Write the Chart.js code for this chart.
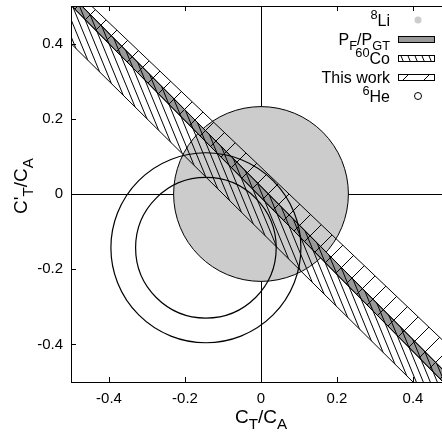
<!DOCTYPE html>
<html>
<head>
<meta charset="utf-8">
<script src="https://cdn.jsdelivr.net/npm/chart.js@4"></script>
<style>
  html, body { margin: 0; padding: 0; background: #fff; overflow: hidden; }
  canvas { display: block; }
</style>
</head>
<body>
<canvas id="myChart" width="460" height="435"></canvas>
<script>
// tick positions on both axes
const tickValues = [-0.4, -0.2, 0, 0.2, 0.4];

// circles (centre and radius in C_T/C_A , C'_T/C_A units)
const circleNames = ["8Li", "6He outer", "6He inner"];
const circleX = [0, -0.145, -0.145];
const circleY = [0, -0.143, -0.143];
const circleR = [0.23, 0.25, 0.185];

// bands: each edge is a straight line, given by its y at x = -0.5 and at x = 0.5
const bandNames = ["P_F/P_GT", "60Co", "This work"];
const bandHighY0 = [0.529, 0.529, 0.552];
const bandHighY1 = [-0.489, -0.489, -0.41];
const bandLowY0 = [0.502, 0.4, 0.502];
const bandLowY1 = [-0.521, -0.6, -0.521];
const edgeX = [-0.5, 0.5];

// key texts (["text", "sup" | "sub" | ""])
const keyLabels = [
  [["8", "sup"], ["Li", ""]],
  [["P", ""], ["F", "sub"], ["/P", ""], ["GT", "sub"]],
  [["60", "sup"], ["Co", ""]],
  [["This work", ""]],
  [["6", "sup"], ["He", ""]],
];

const FONT = "'Liberation Sans', Arial, sans-serif";
var canvas = document.getElementById("myChart");
var ctx = canvas.getContext("2d");

function hatch(w, h, up) {
  const c = document.createElement("canvas");
  c.width = w;
  c.height = h;
  const g = c.getContext("2d");
  g.strokeStyle = "#000";
  g.lineWidth = 1;
  for (const o of [-w, 0, w]) {
    g.beginPath();
    if (up) { g.moveTo(o, h); g.lineTo(o + w, 0); }
    else { g.moveTo(o, 0); g.lineTo(o + w, h); }
    g.stroke();
  }
  return ctx.createPattern(c, "repeat");
}

const bandFill = ["#999999", hatch(7, 17, false), hatch(21, 21, true)];

function radiusPx(chart, r) {
  const x = chart.scales.x;
  return Math.abs(x.getPixelForValue(r) - x.getPixelForValue(0));
}

function circleSet(i, fill, width) {
  return {
    label: circleNames[i],
    data: [{ x: circleX[i], y: circleY[i] }],
    showLine: false,
    pointRadius: (c) => radiusPx(c.chart, circleR[i]),
    pointBackgroundColor: fill,
    pointBorderColor: "#000",
    pointBorderWidth: width,
  };
}

function edgeSet(label, y0, y1, fill, bg) {
  return {
    label: label,
    data: [{ x: edgeX[0], y: y0 }, { x: edgeX[1], y: y1 }],
    borderColor: "#000",
    borderWidth: 1,
    pointRadius: 0,
    fill: fill,
    backgroundColor: bg,
  };
}

// datasets in drawing order (first = bottom)
let datasets = [circleSet(0, "#cccccc", 1)];
for (let i = 0; i < bandNames.length; i++) {
  datasets.push(edgeSet(bandNames[i] + " high", bandHighY0[i], bandHighY1[i], "+1", bandFill[i]));
  datasets.push(edgeSet(bandNames[i] + " low", bandLowY0[i], bandLowY1[i], false, "rgba(0,0,0,0)"));
}
datasets.push(circleSet(1, "rgba(0,0,0,0)", 1.2));
datasets.push(circleSet(2, "rgba(0,0,0,0)", 1.2));
datasets.forEach((d, i) => { d.order = datasets.length - i; });

function richWidth(g, parts, size) {
  let w = 0;
  for (const [t, k] of parts) {
    g.font = (k ? size * 0.8 : size) + "px " + FONT;
    w += g.measureText(t).width;
  }
  return w;
}

function drawRich(g, parts, x, y, size) {
  for (const [t, k] of parts) {
    g.font = (k ? size * 0.8 : size) + "px " + FONT;
    let dy = k === "sub" ? size * 0.3 : k === "sup" ? -size * 0.42 : 0;
    g.fillText(t, x, y + dy);
    x += g.measureText(t).width;
  }
}

const framePlugin = {
  id: "frame",
  afterDatasetsDraw(chart) {
    const g = chart.ctx, a = chart.chartArea;
    const sx = chart.scales.x, sy = chart.scales.y;
    g.save();
    g.strokeStyle = "#000";
    g.lineWidth = 1;
    g.strokeRect(a.left + 0.5, a.top + 0.5, a.right - a.left, a.bottom - a.top);
    g.beginPath();
    for (const v of tickValues) {
      const px = Math.round(sx.getPixelForValue(v)) + 0.5;
      g.moveTo(px, a.bottom); g.lineTo(px, a.bottom - 5);
      g.moveTo(px, a.top); g.lineTo(px, a.top + 5);
      const py = Math.round(sy.getPixelForValue(v)) + 0.5;
      g.moveTo(a.left, py); g.lineTo(a.left + 5, py);
      g.moveTo(a.right, py); g.lineTo(a.right - 5, py);
    }
    g.stroke();
    g.restore();
  },
  afterDraw(chart) {
    const g = chart.ctx;
    g.save();
    g.fillStyle = "#000";
    g.textBaseline = "alphabetic";
    // axis titles
    const xt = [["C", ""], ["T", "sub"], ["/C", ""], ["A", "sub"]];
    const cx = chart.scales.x.getPixelForValue(0);
    drawRich(g, xt, cx - richWidth(g, xt, 19) / 2, 423, 19);
    const yt = [["C'", ""], ["T", "sub"], ["/C", ""], ["A", "sub"]];
    g.save();
    g.translate(27, 186);
    g.rotate(-Math.PI / 2);
    drawRich(g, yt, -richWidth(g, yt, 19) / 2, 0, 19);
    g.restore();
    // key
    for (let i = 0; i < keyLabels.length; i++) {
      const yc = 20 + 19 * i;
      drawRich(g, keyLabels[i], 390 - richWidth(g, keyLabels[i], 16), yc + 6, 16);
      g.lineWidth = 1;
      g.strokeStyle = "#000";
      if (i === 0) {
        g.fillStyle = "#cccccc";
        g.beginPath(); g.arc(418, yc, 3.5, 0, Math.PI * 2); g.fill();
      } else if (i === 4) {
        g.beginPath(); g.arc(418, yc, 3.5, 0, Math.PI * 2); g.stroke();
      } else {
        g.fillStyle = bandFill[i - 1];
        g.fillRect(398, yc - 3, 37, 6);
        g.strokeRect(398.5, yc - 2.5, 36, 6);
      }
      g.fillStyle = "#000";
    }
    g.restore();
  },
};

function fmt(v) {
  return v === 0 ? "0" : v.toFixed(1);
}

function axis(fit) {
  return {
    type: "linear",
    min: -0.5,
    max: 0.5,
    afterBuildTicks: (s) => { s.ticks = tickValues.map((v) => ({ value: v })); },
    afterFit: fit,
    border: { display: false },
    grid: {
      drawTicks: false,
      lineWidth: 1,
      color: (c) => (c.tick && c.tick.value === 0 ? "#000" : "rgba(0,0,0,0)"),
    },
    ticks: {
      color: "#000",
      padding: 8,
      autoSkip: false,
      maxRotation: 0,
      font: { family: FONT, size: 15 },
      callback: (v) => fmt(v),
    },
  };
}

var myChart = new Chart(ctx, {
  type: "line",
  data: { datasets: datasets },
  options: {
    responsive: false,
    animation: false,
    events: [],
    devicePixelRatio: 1,
    layout: { padding: { left: 0, right: 9, top: 6, bottom: 0 } },
    plugins: { legend: { display: false }, tooltip: { enabled: false } },
    scales: {
      x: axis((s) => { s.height = 53; s.paddingLeft = 0; s.paddingRight = 0; }),
      y: axis((s) => { s.width = 71; s.paddingTop = 0; s.paddingBottom = 0; }),
    },
  },
  plugins: [framePlugin],
});
</script>
</body>
</html>
